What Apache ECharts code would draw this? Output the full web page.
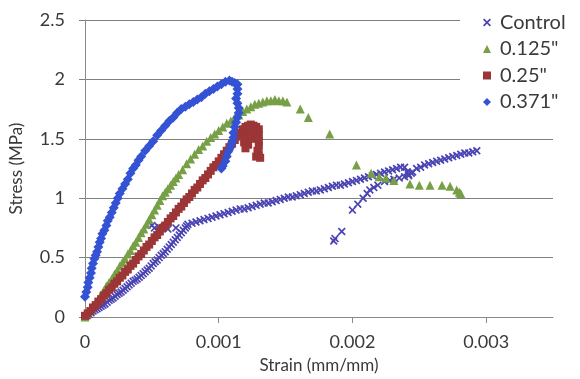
<!DOCTYPE html>
<html>
<head>
<meta charset="utf-8">
<script src="https://cdn.jsdelivr.net/npm/echarts@6/dist/echarts.min.js"></script>
<style>
  html, body { margin: 0; padding: 0; background: #fff; }
  #chart { width: 580px; height: 379px; }
</style>
</head>
<body>
<div id="chart"></div>
<script>
// Stress–strain test results, [strain (mm/mm), stress (MPa)]
const seriesNames = ['Control', '0.125"', '0.25"', '0.371"'];

const controlData = [
  [0.000000,0.000],[0.000015,0.010],[0.000030,0.020],[0.000045,0.035],[0.000060,0.050],[0.000075,0.060],
  [0.000090,0.070],[0.000105,0.080],[0.000120,0.090],[0.000135,0.100],[0.000150,0.110],[0.000165,0.125],
  [0.000180,0.140],[0.000195,0.150],[0.000210,0.160],[0.000225,0.175],[0.000240,0.190],[0.000255,0.200],
  [0.000270,0.210],[0.000285,0.225],[0.000300,0.240],[0.000315,0.255],[0.000330,0.270],[0.000345,0.285],
  [0.000360,0.300],[0.000375,0.310],[0.000390,0.320],[0.000405,0.335],[0.000420,0.350],[0.000435,0.365],
  [0.000450,0.380],[0.000465,0.395],[0.000480,0.410],[0.000495,0.430],[0.000510,0.450],[0.000525,0.465],
  [0.000540,0.480],[0.000555,0.500],[0.000570,0.520],[0.000585,0.535],[0.000600,0.550],[0.000615,0.570],
  [0.000630,0.590],[0.000645,0.610],[0.000660,0.630],[0.000675,0.650],[0.000690,0.670],[0.000705,0.690],
  [0.000720,0.710],[0.000735,0.730],[0.000750,0.750],[0.000760,0.765],[0.000770,0.780],
  [0.000500,0.770],[0.000520,0.750],[0.000550,0.760],[0.000620,0.740],[0.000680,0.750],
  [0.00080,0.79],[0.00083,0.80],[0.00086,0.81],[0.00089,0.82],[0.00092,0.83],[0.00095,0.84],
  [0.00098,0.85],[0.00101,0.86],[0.00104,0.87],[0.00107,0.88],[0.00110,0.89],[0.00113,0.90],
  [0.00116,0.91],[0.00119,0.91],[0.00122,0.92],[0.00125,0.93],[0.00128,0.94],[0.00131,0.95],
  [0.00134,0.96],[0.00137,0.96],[0.00140,0.97],[0.00143,0.98],[0.00146,0.99],[0.00149,1.00],
  [0.00152,1.01],[0.00155,1.01],[0.00158,1.02],[0.00161,1.03],[0.00164,1.04],[0.00167,1.05],
  [0.00170,1.06],[0.00173,1.06],[0.00176,1.07],[0.00179,1.08],[0.00182,1.09],[0.00185,1.10],
  [0.00188,1.11],[0.00191,1.11],[0.00194,1.12],[0.00197,1.13],[0.00200,1.14],[0.00203,1.15],
  [0.00206,1.16],[0.00209,1.17],[0.00212,1.18],[0.00215,1.19],[0.00218,1.20],[0.00221,1.21],
  [0.00224,1.22],[0.00227,1.23],[0.00230,1.24],[0.00233,1.25],[0.00236,1.26],[0.00239,1.26],
  [0.00241,1.22],[0.00242,1.19],[0.00245,1.22],[0.00248,1.25],[0.00251,1.26],[0.00254,1.28],
  [0.00257,1.29],[0.00260,1.30],[0.00263,1.31],[0.00266,1.32],[0.00269,1.33],[0.00272,1.34],
  [0.00275,1.35],[0.00278,1.36],[0.00281,1.37],[0.00284,1.38],[0.00287,1.38],[0.00290,1.39],
  [0.00293,1.40],
  [0.00186,0.64],[0.00187,0.66],[0.00192,0.72],[0.00200,0.90],[0.00204,0.95],[0.00208,1.00],
  [0.00211,1.04],[0.00213,1.07],[0.00216,1.09],[0.00219,1.11],[0.00224,1.14],[0.00228,1.15],
  [0.00231,1.16],[0.00235,1.17],[0.00239,1.18],[0.00242,1.20],[0.00244,1.21]
];

const data0125 = [
  [0.00000,0.00],[0.00002,0.03],[0.00004,0.06],[0.00006,0.09],[0.00008,0.12],[0.00010,0.15],
  [0.00012,0.19],[0.00014,0.22],[0.00016,0.26],[0.00018,0.29],[0.00020,0.32],[0.00022,0.36],
  [0.00024,0.39],[0.00026,0.43],[0.00028,0.46],[0.00030,0.49],[0.00032,0.53],[0.00034,0.56],
  [0.00036,0.60],[0.00038,0.63],[0.00040,0.67],[0.00042,0.71],[0.00044,0.74],[0.00046,0.78],
  [0.00048,0.82],[0.00050,0.86],[0.00052,0.90],[0.00054,0.94],[0.00056,0.98],[0.00058,1.02],
  [0.00060,1.05],[0.00062,1.08],[0.00064,1.11],[0.00066,1.14],[0.00068,1.17],[0.00070,1.20],
  [0.00073,1.24],[0.00076,1.29],[0.00079,1.33],[0.00082,1.37],[0.00085,1.41],[0.00088,1.44],
  [0.00091,1.48],[0.00094,1.51],[0.00097,1.54],[0.00100,1.57],[0.00103,1.60],[0.00106,1.63],
  [0.00109,1.65],[0.00112,1.68],[0.00115,1.70],[0.00118,1.73],[0.00121,1.75],[0.00124,1.77],
  [0.00127,1.79],[0.00130,1.80],[0.00133,1.81],[0.00136,1.82],[0.00139,1.82],[0.00142,1.83],
  [0.00145,1.82],[0.00148,1.82],[0.00151,1.81],
  [0.00161,1.75],[0.00167,1.68],[0.00183,1.54],[0.00203,1.28],[0.00214,1.21],[0.00220,1.18],
  [0.00225,1.17],[0.00231,1.15],[0.00243,1.12],[0.00250,1.11],[0.00258,1.11],[0.00267,1.11],
  [0.00273,1.10],[0.00278,1.07],[0.00280,1.05],[0.00281,1.04]
];

const data025 = [
  [0.00000,0.01],[0.00002,0.03],[0.00004,0.05],[0.00006,0.08],[0.00008,0.10],[0.00010,0.13],
  [0.00012,0.15],[0.00014,0.18],[0.00016,0.20],[0.00018,0.23],[0.00020,0.25],[0.00022,0.28],
  [0.00024,0.30],[0.00026,0.33],[0.00028,0.35],[0.00030,0.38],[0.00032,0.40],[0.00034,0.43],
  [0.00036,0.45],[0.00038,0.48],[0.00040,0.51],[0.00042,0.53],[0.00044,0.56],[0.00046,0.59],
  [0.00048,0.61],[0.00050,0.64],[0.00052,0.67],[0.00054,0.69],[0.00056,0.72],[0.00058,0.75],
  [0.00060,0.77],[0.00062,0.80],[0.00064,0.83],[0.00066,0.85],[0.00068,0.88],[0.00070,0.91],
  [0.00072,0.93],[0.00074,0.96],[0.00076,0.99],[0.00078,1.01],[0.00080,1.04],[0.00082,1.07],
  [0.00084,1.09],[0.00086,1.12],[0.00088,1.15],[0.00090,1.17],[0.00092,1.20],[0.00094,1.23],
  [0.00096,1.26],[0.00098,1.28],[0.00100,1.31],[0.00102,1.34],[0.00104,1.37],[0.00106,1.40],
  [0.00108,1.43],[0.00110,1.46],[0.00112,1.49],[0.00114,1.52],[0.00116,1.55],[0.00118,1.58],
  [0.00120,1.60],
  [0.00122,1.61],[0.00124,1.62],[0.00126,1.61],[0.00128,1.60],[0.00130,1.58],
  [0.00118,1.52],[0.00120,1.55],[0.00122,1.57],[0.00125,1.58],[0.00128,1.56],[0.00130,1.53],
  [0.00119,1.47],[0.00121,1.50],[0.00124,1.52],[0.00127,1.50],[0.00130,1.48],
  [0.00120,1.42],[0.00122,1.45],[0.00130,1.44],[0.00129,1.40],[0.00130,1.37],[0.00128,1.35],
  [0.00131,1.34]
];

const data0371 = [
  [0.000000,0.17],[0.000010,0.21],[0.000020,0.25],[0.000025,0.29],[0.000035,0.33],[0.000045,0.37],
  [0.000050,0.41],[0.000060,0.45],[0.000070,0.49],[0.000080,0.52],[0.000090,0.55],[0.000100,0.59],
  [0.000110,0.63],[0.000120,0.66],[0.000130,0.70],[0.000145,0.73],[0.000160,0.77],[0.000170,0.81],
  [0.000185,0.84],[0.000200,0.88],[0.000215,0.92],[0.000230,0.96],[0.000245,1.00],[0.000260,1.04],
  [0.000280,1.08],[0.000300,1.12],[0.000320,1.16],[0.000340,1.21],[0.000360,1.25],[0.000380,1.28],
  [0.000400,1.32],[0.000420,1.35],[0.000450,1.40],[0.000480,1.44],[0.000510,1.48],[0.000540,1.53],
  [0.000570,1.57],[0.000600,1.61],[0.000630,1.65],[0.000660,1.68],[0.000690,1.72],[0.000720,1.75],
  [0.000750,1.77],[0.000780,1.79],[0.000810,1.81],[0.000840,1.83],[0.000870,1.85],[0.000900,1.88],
  [0.000930,1.90],[0.000960,1.92],[0.000990,1.94],[0.001020,1.96],[0.001050,1.98],[0.001080,1.99],
  [0.001100,1.98],[0.001120,1.97],[0.001140,1.96],[0.001140,1.92],[0.001140,1.88],[0.001130,1.84],
  [0.001140,1.80],[0.001150,1.76],[0.001150,1.72],[0.001140,1.68],[0.001130,1.64],[0.001120,1.60],
  [0.001110,1.55],[0.001110,1.51],[0.001100,1.47],[0.001090,1.43],[0.001070,1.39],[0.001060,1.35],
  [0.001050,1.31],[0.001030,1.27],[0.001020,1.25]
];

const xTickValues = [0.001, 0.002, 0.003];
const xLabelValues = [0, 0.001, 0.002, 0.003];

const colors = ['#4a44b2', '#77a046', '#9c3636', '#3452d4'];
const crossPath = 'path://M0,1.5 L1.5,0 L5,3.5 L8.5,0 L10,1.5 L6.5,5 L10,8.5 L8.5,10 L5,6.5 L1.5,10 L0,8.5 L3.5,5 Z';
const symbols = [crossPath, 'triangle', 'rect', 'diamond'];
const sizes = [8, 9, 8, 10];
const allData = [controlData, data0125, data025, data0371];

const FONT = 'Lato, "Open Sans", sans-serif';
const TXT = '#3a3a3a';

const chart = echarts.init(document.getElementById('chart'), null, { renderer: 'canvas' });
chart.setOption({
  animation: false,
  backgroundColor: '#fff',
  color: colors,
  textStyle: { fontFamily: FONT },
  grid: { left: 85, right: 27, top: 20, bottom: 59 },
  legend: {
    orient: 'vertical',
    left: 460,
    top: 4,
    padding: [8, 4, 10, 23],
    backgroundColor: '#fff',
    itemWidth: 8,
    itemHeight: 8,
    itemGap: 5.5,
    data: seriesNames.map((n, i) => ({ name: n, icon: symbols[i] })),
    textStyle: { fontFamily: FONT, fontSize: 20, color: TXT, lineHeight: 21, padding: [0, 0, 0, 4] },
    z: 10
  },
  xAxis: {
    type: 'value',
    min: 0,
    max: 0.0035,
    interval: 0.001,
    name: 'Strain (mm/mm)',
    nameLocation: 'middle',
    nameGap: 40,
    nameTextStyle: { fontFamily: FONT, fontSize: 17, color: TXT },
    axisLine: { show: true, onZero: false, lineStyle: { color: '#8a8a8a', width: 1 } },
    axisTick: { show: true, inside: false, length: 6, customValues: xTickValues, lineStyle: { color: '#8a8a8a' } },
    axisLabel: {
      customValues: xLabelValues,
      margin: 16,
      fontFamily: FONT, fontSize: 18, color: TXT,
      formatter: v => (v === 0 ? '0' : v.toFixed(3))
    },
    splitLine: { show: false }
  },
  yAxis: {
    type: 'value',
    min: 0,
    max: 2.5,
    interval: 0.5,
    name: 'Stress (MPa)',
    nameLocation: 'middle',
    nameGap: 60,
    nameTextStyle: { fontFamily: FONT, fontSize: 17, color: TXT },
    axisLine: { show: true, lineStyle: { color: '#8a8a8a', width: 1 } },
    axisTick: { show: true, inside: false, length: 6, lineStyle: { color: '#808080' } },
    axisLabel: { margin: 20, fontFamily: FONT, fontSize: 18, color: TXT },
    splitLine: { show: true, lineStyle: { color: '#808080', width: 1 } }
  },
  series: seriesNames.map((n, i) => ({
    name: n,
    type: 'scatter',
    data: allData[i],
    symbol: symbols[i],
    symbolSize: sizes[i],
    itemStyle: { color: colors[i], opacity: 1 },
    emphasis: { disabled: true },
    z: 2 + i
  }))
});
</script>
</body>
</html>
